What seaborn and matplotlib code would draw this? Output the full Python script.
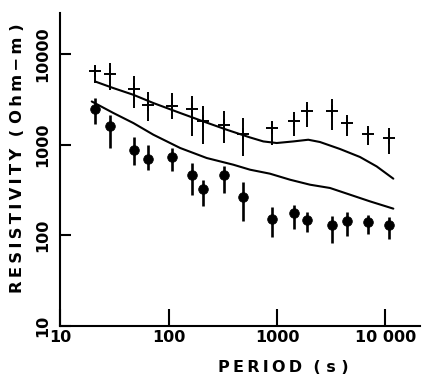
import numpy as np
import pandas as pd
import matplotlib
matplotlib.use("Agg")
import matplotlib.pyplot as plt
import seaborn as sns

# periods (s) of the soundings
period = [21, 29, 48, 65, 107, 166, 207, 327, 483, 893, 1443, 1878, 3194, 4446, 6937, 10770]

# crosses: apparent resistivity with error bar limits (Ohm-m)
rho_cross = [6430, 6070, 4140, 2760, 2690, 2475, 1808, 1633, 1313, 1528, 1808, 2330, 2330, 1735, 1322, 1186]
cross_hi = [7300, 8070, 5660, 3775, 3715, 3410, 2690, 2330, 1968, 1808, 2270, 2925, 3190, 2144, 1592, 1528]
cross_lo = [4790, 3975, 2540, 1808, 1918, 1256, 1025, 1044, 757, 982, 1235, 1567, 1462, 1235, 982, 796]

# dots: apparent resistivity with error bar limits (Ohm-m)
rho_dot = [2495, 1619, 865, 695, 738, 467, 325, 459, 265, 153, 177, 149, 131, 145, 141, 129]
dot_hi = [3270, 2144, 1216, 1000, 920, 629, 411, 577, 384, 206, 214, 181, 162, 181, 169, 160]
dot_lo = [1706, 920, 592, 521, 508, 281, 209, 293, 143, 96, 116, 108, 82, 97.5, 104, 91]

# model curves
upper_T = [21, 31, 47.4, 72.5, 128, 209, 344, 564, 748, 993, 1413, 1941, 2489, 3805, 5818, 8293, 11810]
upper_rho = [4990, 4217, 3556, 2883, 2239, 1808, 1463, 1203, 1087, 1044, 1087, 1135, 1071, 897, 732, 576, 422]
lower_T = [19.6, 31, 47.4, 72.5, 128, 225, 395, 564, 861, 1318, 2015, 3080, 4707, 7195, 11810]
lower_rho = [3000, 2239, 1734, 1289, 920, 713, 602, 530, 479, 411, 362, 333, 281, 237, 197]

xticks = [10, 100, 1000, 10000]
xticklabels = ['10', '100', '1000', '10 000']
yticks = [10, 100, 1000, 10000]
yticklabels = ['10', '100', '1000', '10000']

sns.set_style('ticks')
plt.rcParams['font.family'] = ['Liberation Sans Narrow', 'DejaVu Sans']
plt.rcParams['font.weight'] = 'bold'
for k in ['text.color', 'axes.labelcolor', 'xtick.color', 'ytick.color', 'axes.edgecolor']:
    plt.rcParams[k] = 'black'

fig = plt.figure(figsize=(4.29, 3.79), dpi=100)
ax = fig.add_axes([0.14, 0.14, 0.839, 0.826])

ax.set_xscale('log')
ax.set_yscale('log')

# error bars
ax.vlines(period, cross_lo, cross_hi, color='black', lw=1.4)
ax.vlines(period, dot_lo, dot_hi, color='black', lw=1.9)

# curves
sns.lineplot(x=upper_T, y=upper_rho, ax=ax, color='black', lw=1.5, sort=False, estimator=None)
sns.lineplot(x=lower_T, y=lower_rho, ax=ax, color='black', lw=1.5, sort=False, estimator=None)

# markers
sns.scatterplot(x=period, y=rho_cross, ax=ax, marker='+', s=80, color='black', linewidth=1.4)
sns.scatterplot(x=period, y=rho_dot, ax=ax, marker='o', s=48, color='black', edgecolor='black')

ax.set_xlim(10, 20800)
ax.set_ylim(10, 28500)
ax.set_xticks(xticks)
ax.set_xticklabels(xticklabels, fontsize=11.5, fontweight='bold')
ax.set_yticks(yticks)
ax.set_yticklabels(yticklabels, fontsize=11.5, fontweight='bold', rotation=90, va='center')
ax.minorticks_off()
ax.tick_params(axis='x', direction='in', length=12, width=1.5, pad=3)
ax.tick_params(axis='y', direction='in', length=8, width=1.5, pad=7)

sns.despine(ax=ax)
for s in ['left', 'bottom']:
    ax.spines[s].set_linewidth(1.5)

ts = '\u2009'
ax.set_xlabel(ts.join('PERIOD') + '  ( s )', fontsize=11.5, fontweight='bold')
ax.set_ylabel(ts.join('RESISTIVITY') + '  ( ' + ts.join('Ohm−m') + ' )', fontsize=11.8, fontweight='bold')
ax.xaxis.set_label_coords(0.62, -0.11)
ax.yaxis.set_label_coords(-0.097, 0.535)

fig.savefig('out.png', dpi=100)
